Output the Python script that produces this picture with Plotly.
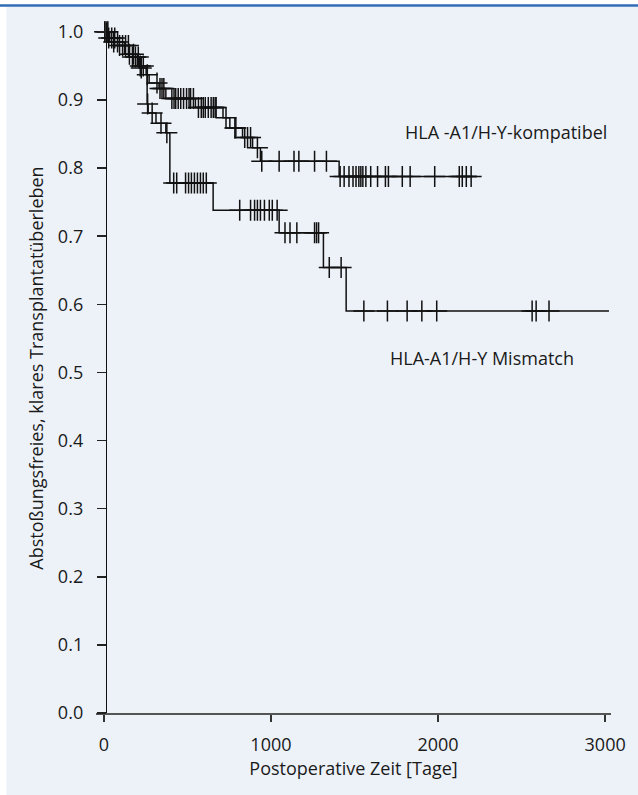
import numpy as np
import plotly.graph_objects as go

# ---------------- data ----------------
comp_event_days = [0, 24, 82, 153, 212, 253, 271, 330, 371, 548, 713, 754, 830, 890, 937, 1408]
comp_surv = [1.0, 0.991, 0.980, 0.963, 0.947, 0.937, 0.925, 0.917, 0.902, 0.889, 0.874,
             0.859, 0.845, 0.830, 0.810, 0.7875]
comp_end_day = 2233
comp_censor_days = [6, 18, 29, 47, 65, 94, 112, 130, 147, 171, 189, 206, 224, 260, 318, 336,
                    348, 359, 407, 420, 430, 445, 460, 477, 495, 510, 519, 536, 566, 583, 595,
                    607, 625, 642, 655, 666, 672, 731, 784, 790, 843, 860, 878, 919, 945, 1049,
                    1138, 1167, 1261, 1332, 1414, 1438, 1467, 1491, 1509, 1526, 1538, 1550,
                    1568, 1597, 1638, 1685, 1703, 1786, 1833, 1980, 2127, 2145, 2169, 2198]

mism_event_days = [0, 35, 124, 200, 259, 265, 312, 371, 395, 654, 1049, 1314, 1450]
mism_surv = [1.0, 0.985, 0.967, 0.950, 0.894, 0.881, 0.866, 0.852, 0.778, 0.738, 0.705,
             0.654, 0.590]
mism_end_day = 3023
mism_censor_days = [6, 24, 59, 82, 153, 177, 218, 236, 262, 289, 342, 377, 418, 436, 489,
                    507, 524, 542, 560, 578, 595, 613, 813, 878, 902, 919, 937, 961, 990,
                    1008, 1037, 1084, 1114, 1155, 1261, 1273, 1285, 1349, 1420, 1556, 1697,
                    1815, 1903, 1992, 2563, 2587, 2664]

label_comp = "HLA -A1/H-Y-kompatibel"
label_mism = "HLA-A1/H-Y Mismatch"
x_title = "Postoperative Zeit [Tage]"
y_title = "Abstoßungsfreies, klares Transplantatüberleben"
x_ticks = [0, 1000, 2000, 3000]
y_ticks = [0.0, 0.1, 0.2, 0.3, 0.4, 0.5, 0.6, 0.7, 0.8, 0.9, 1.0]

# ---------------- figure ----------------
FONT = "Open Sans"
BG = "#edf2f9"
INK = "#1a1a1a"


def step_value(events, surv, t):
    i = np.searchsorted(np.asarray(events), t, side="right") - 1
    return surv[i]


fig = go.Figure()
for ev, sv, end, cens, name in [
    (comp_event_days, comp_surv, comp_end_day, comp_censor_days, label_comp),
    (mism_event_days, mism_surv, mism_end_day, mism_censor_days, label_mism),
]:
    fig.add_trace(go.Scatter(
        x=list(ev) + [end], y=list(sv) + [sv[-1]], mode="lines",
        line=dict(color="#111111", width=1.5, shape="hv"), name=name,
        showlegend=False, cliponaxis=False, hoverinfo="skip"))
    fig.add_trace(go.Scatter(
        x=cens, y=[step_value(ev, sv, t) for t in cens], mode="markers",
        marker=dict(symbol="cross-thin", size=15, color="#111111",
                    line=dict(color="#111111", width=1.5)),
        showlegend=False, cliponaxis=False, hoverinfo="skip"))

fig.add_annotation(x=2404, y=0.853, text=label_comp, showarrow=False,
                   font=dict(family=FONT, size=18, color=INK))
fig.add_annotation(x=2263, y=0.521, text=label_mism, showarrow=False,
                   font=dict(family=FONT, size=18, color=INK))

# light-blue box with white page edge, and the blue rule on top
fig.add_shape(type="rect", xref="paper", yref="paper", x0=-0.174, x1=1.06,
              y0=-0.13, y1=1.0232, line=dict(width=0), fillcolor=BG, layer="below")
fig.add_shape(type="line", xref="paper", yref="paper", x0=-0.19, x1=1.06,
              y0=1.0254, y1=1.0254, line=dict(color="#2f6db5", width=2.5))

fig.update_layout(
    width=638, height=795,
    margin=dict(l=96, r=19, t=23, b=82),
    paper_bgcolor="white", plot_bgcolor=BG,
    font=dict(family=FONT, size=18, color=INK),
    xaxis=dict(range=[-47, 3035], tickvals=x_ticks, ticks="outside", ticklen=7,
               tickwidth=1.5, tickcolor="#333333", showline=True, linecolor="#555555",
               linewidth=2, showgrid=False, zeroline=False,
               ticklabelstandoff=7,
               title=dict(text=x_title, font=dict(size=18), standoff=8)),
    yaxis=dict(range=[0, 1.013], tickvals=y_ticks, tickformat=".1f", ticks="outside",
               ticklen=9, tickwidth=1.5, tickcolor="#222222", showline=True,
               linecolor="#111111", linewidth=1.5, showgrid=False, zeroline=False,
               anchor="free", position=0.019, ticklabelstandoff=10,
               title=dict(text=y_title, font=dict(size=18), standoff=8)),
)

fig.write_html("out.html", config={"displayModeBar": False, "staticPlot": True},
               post_script="document.body.style.margin='0';")
